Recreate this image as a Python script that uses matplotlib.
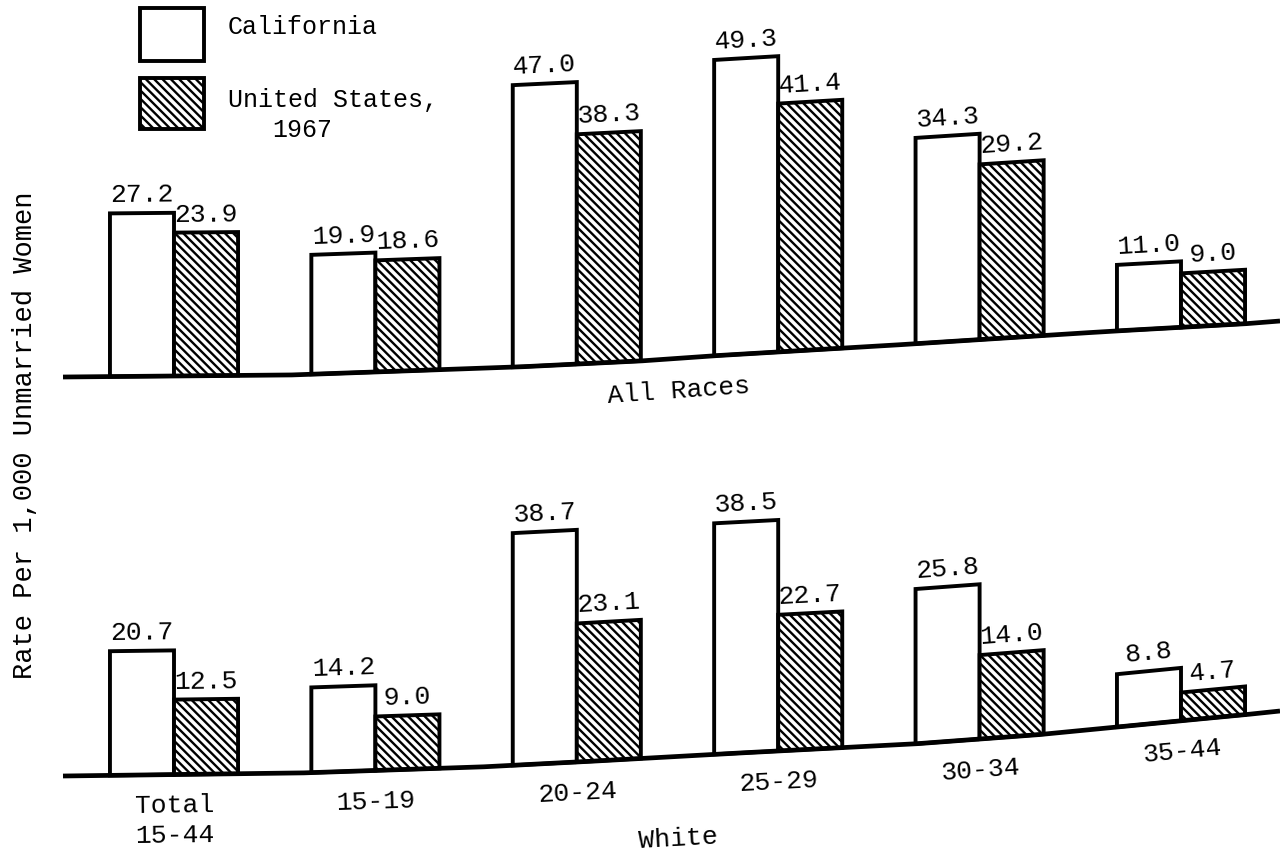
import numpy as np
import matplotlib
matplotlib.use("Agg")
import matplotlib.pyplot as plt
import matplotlib.transforms as mtransforms
from matplotlib.patches import Rectangle

# values
groups = ["Total\n15-44", "15-19", "20-24", "25-29", "30-34", "35-44"]
all_races_ca = [27.2, 19.9, 47.0, 49.3, 34.3, 11.0]
all_races_us = [23.9, 18.6, 38.3, 41.4, 29.2, 9.0]
white_ca = [20.7, 14.2, 38.7, 38.5, 25.8, 8.8]
white_us = [12.5, 9.0, 23.1, 22.7, 14.0, 4.7]
panel_titles = ["All Races", "White"]
series_names = ["California", "United States,", "1967"]
ylabel = "Rate Per 1,000 Unmarried Women"

# the scanned page is bent a little, baselines climb towards the right (pixels)
top_bend_x = [63, 290, 517, 640, 710, 880, 1035, 1115, 1242, 1280]
top_bend_dy = [0, 2, 10, 16, 21, 31, 41, 46, 53, 56]
bot_bend_x = [63, 300, 480, 578, 720, 913, 1035, 1178, 1242, 1280]
bot_bend_dy = [0, 3, 9, 14, 22, 32, 41, 55, 61, 65]

plt.rcParams["font.family"] = ["Liberation Mono", "DejaVu Sans Mono"]
plt.rcParams["hatch.linewidth"] = 1.7
FS = 19
W, H = 1280, 854
HATCH = "\\\\\\\\"
LW = 2.8


class Bend(mtransforms.Transform):
    """Shift display points upward by an amount that depends on x."""
    input_dims = 2
    output_dims = 2
    is_separable = False

    def __init__(self, kx, kdy):
        super().__init__()
        self.kx = np.asarray(kx, float)
        self.kdy = np.asarray(kdy, float)

    def transform_non_affine(self, values):
        xy = np.array(values, dtype=float).reshape(-1, 2)
        out = xy.copy()
        out[:, 1] += np.interp(xy[:, 0], self.kx, self.kdy)
        return out

    def slope_deg(self, px):
        d = (np.interp(px + 15, self.kx, self.kdy) - np.interp(px - 15, self.kx, self.kdy)) / 30
        return np.degrees(np.arctan(d))


fig = plt.figure(figsize=(W / 100, H / 100), dpi=100)
fig.patch.set_facecolor("white")

# layout in pixels: first group at x=174, groups 201.4 px apart, 6 px per unit
x0, step, ppu = 174, 201.4, 6.0
xlim = ((63 - x0) / step, (W - x0) / step)
ax_top = fig.add_axes([63 / W, (H - 430) / H, (W - 63) / W, 430 / H])
ax_top.set_ylim(-(430 - 378) / ppu, 378 / ppu)
ax_bot = fig.add_axes([63 / W, 0, (W - 63) / W, (H - 430) / H])
ax_bot.set_ylim(-(H - 777) / ppu, (777 - 430) / ppu)

bar_w = 0.318


def draw_panel(ax, ca, us, bend_x, bend_dy, title, title_y, show_groups):
    ax.set_xlim(*xlim)
    ax.axis("off")
    bend = Bend(bend_x, bend_dy)
    tr = ax.transData + bend
    x = np.arange(len(groups))

    def tilt(xd):
        return bend.slope_deg(ax.transData.transform((xd, 0))[0])

    ax.bar(x - bar_w / 2, ca, bar_w, color="white", edgecolor="black",
           linewidth=LW, transform=tr, clip_on=False)
    ax.bar(x + bar_w / 2, us, bar_w, color="white", edgecolor="black",
           linewidth=LW, hatch=HATCH, transform=tr, clip_on=False)

    xs = np.linspace(xlim[0], xlim[1], 400)
    ax.plot(xs, np.zeros_like(xs), color="black", lw=3.4, transform=tr,
            clip_on=False, solid_capstyle="butt")

    for xi, v in zip(x - bar_w / 2, ca):
        ax.text(xi, v + 2.0, f"{v:.1f}", ha="center", va="baseline", fontsize=FS,
                rotation=tilt(xi), rotation_mode="anchor", transform=tr)
    for xi, v in zip(x + bar_w / 2, us):
        ax.text(xi, v + 2.0, f"{v:.1f}", ha="center", va="baseline", fontsize=FS,
                rotation=tilt(xi), rotation_mode="anchor", transform=tr)

    if show_groups:
        for xi, g in zip(x, groups):
            ax.text(xi, -3.0, g, ha="center", va="top", fontsize=FS,
                    multialignment="center", linespacing=1.3,
                    rotation=tilt(xi), rotation_mode="anchor", transform=tr)

    ax.text(2.5, title_y, title, ha="center", va="top", fontsize=FS,
            rotation=tilt(2.5), rotation_mode="anchor", transform=tr)


draw_panel(ax_top, all_races_ca, all_races_us, top_bend_x, top_bend_dy,
           panel_titles[0], -3.3, False)
draw_panel(ax_bot, white_ca, white_us, bot_bend_x, bot_bend_dy,
           panel_titles[1], -11.5, True)

fig.text(25 / W, 1 - 435 / H, ylabel, rotation=90, ha="center", va="center",
         fontsize=19.5)

# key in the top left corner, laid out in figure pixels
ax_key = fig.add_axes([0, 0, 1, 1], zorder=-1)
ax_key.set_xlim(0, W)
ax_key.set_ylim(H, 0)
ax_key.axis("off")
ax_key.add_patch(Rectangle((140, 9), 64, 53, facecolor="white",
                           edgecolor="black", linewidth=LW))
ax_key.add_patch(Rectangle((140, 79), 64, 51, facecolor="white",
                           edgecolor="black", linewidth=LW, hatch=HATCH))
ax_key.text(228, 27, series_names[0], ha="left", va="center", fontsize=18)
ax_key.text(228, 100, series_names[1], ha="left", va="center", fontsize=18)
ax_key.text(272, 130, series_names[2], ha="left", va="center", fontsize=18)

fig.savefig("out.png", dpi=100, facecolor="white")
